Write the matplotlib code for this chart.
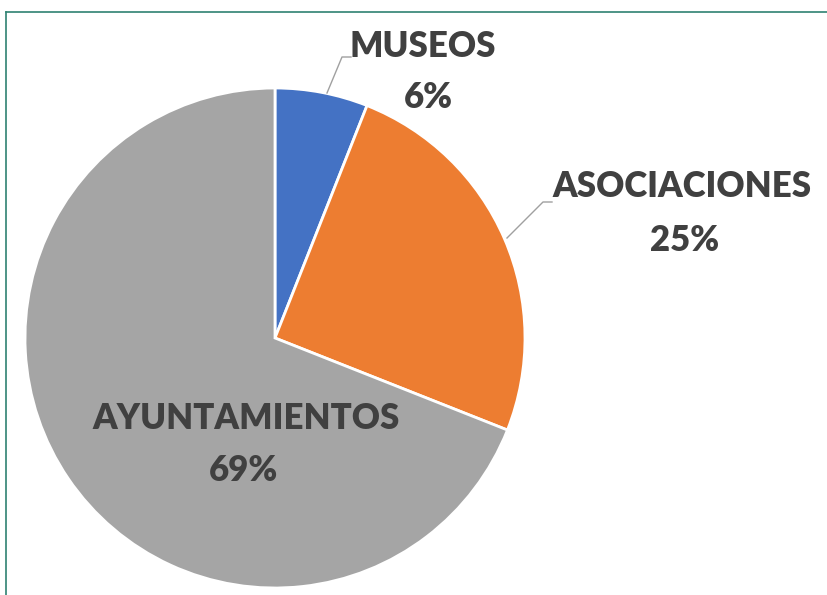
import matplotlib.pyplot as plt

plt.rcParams["font.family"] = ["Lato", "DejaVu Sans"]

categories = ["MUSEOS", "ASOCIACIONES", "AYUNTAMIENTOS"]
values = [6, 25, 69]
colors = ["#4472c4", "#ed7d31", "#a5a5a5"]

W, H = 828, 595
fig = plt.figure(figsize=(W / 100, H / 100), dpi=100)
ax = fig.add_axes([0, 0, 1, 1])

# frame (teal, open at right/bottom like the crop)
ax.plot([6, 6], [0, H - 12], color="#2f8272", lw=1.2)
ax.plot([6, W], [H - 12, H - 12], color="#2f8272", lw=1.2)

cx, cy, r = 275, H - 338, 250
ax.pie(values, colors=colors, startangle=90, counterclock=False,
       center=(cx, cy), radius=r, frame=True,
       wedgeprops=dict(edgecolor="white", linewidth=2))
ax.set_xlim(0, W)
ax.set_ylim(0, H)
ax.set_aspect("equal")
ax.axis("off")

txt = dict(fontsize=25, fontweight="heavy", color="#404040", ha="center", va="baseline")

# label baselines in pixel coords from top: (name x, name y, pct x, pct y)
pos = [(423, 57, 428, 108), (682, 197, 685, 251), (246, 429, 244, 481)]
for c, v, (nx, ny, px, py) in zip(categories, values, pos):
    ax.text(nx, H - ny, c, **txt)
    ax.text(px, H - py, f"{v}%", **txt)

# leader lines
ax.plot([327, 342, 351], [H - 93, H - 57, H - 57], color="#a0a0a0", lw=1)
ax.plot([507, 543, 552], [H - 238, H - 202, H - 202], color="#a0a0a0", lw=1)

fig.savefig("out.png", dpi=100)
